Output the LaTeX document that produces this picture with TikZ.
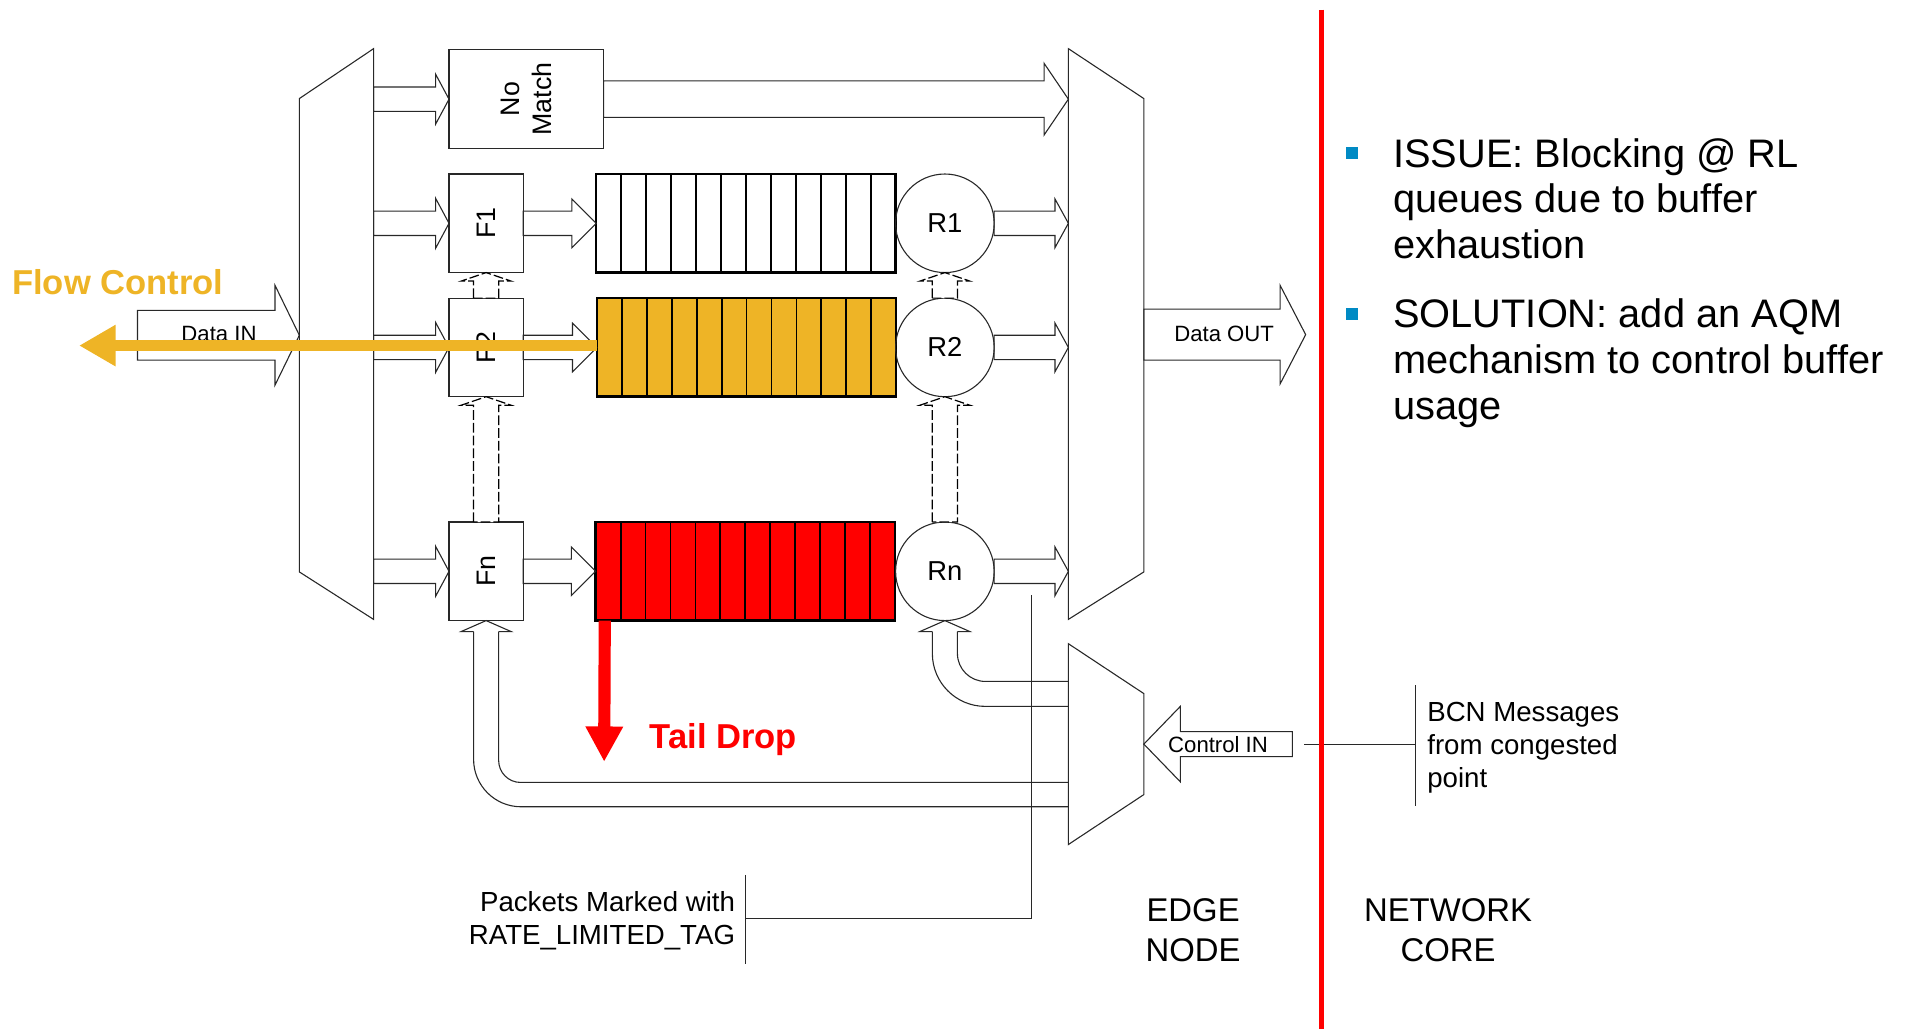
\documentclass[tikz,border=0pt]{standalone}
\usepackage{fontspec}
\setmainfont{Liberation Sans}
\usetikzlibrary{arrows.meta,calc}
\definecolor{qorange}{RGB}{238,180,38}
\definecolor{bulblue}{RGB}{0,138,196}
\definecolor{lnc}{RGB}{40,40,40}
\definecolor{tred}{RGB}{255,0,0}

% horizontal block arrow: [opts]{start}{tip}{body half}{head half}{head length (signed)}
\newcommand\harr[6][]{%
 \draw[blk,#1] let \p1=(#2), \p2=(#3) in
 (\x1,{\y1-#4}) -- ({\x2-(#6)},{\y1-#4}) -- ({\x2-(#6)},{\y1-#5}) -- (\x2,\y1)
 -- ({\x2-(#6)},{\y1+#5}) -- ({\x2-(#6)},{\y1+#4}) -- (\x1,{\y1+#4}) -- cycle;}
% upward block arrow: [opts]{start (bottom)}{tip}{body half}{head half}{head length}
\newcommand\varr[6][]{%
 \draw[blk,#1] let \p1=(#2), \p2=(#3) in
 ({\x1-#4},\y1) -- ({\x1-#4},{\y2-#6}) -- ({\x1-#5},{\y2-#6}) -- (\x1,\y2)
 -- ({\x1+#5},{\y2-#6}) -- ({\x1+#4},{\y2-#6}) -- ({\x1+#4},\y1) -- cycle;}
% open head of the feedback arrows
\newcommand\uhead[1]{%
 \draw[blk] let \p1=(#1) in ({\x1-10.3pt},{\y1-9pt}) -- ({\x1-20.5pt},{\y1-9pt}) -- (\x1,\y1)
 -- ({\x1+20.5pt},{\y1-9pt}) -- ({\x1+10.3pt},{\y1-9pt});}

\begin{document}
\begin{tikzpicture}[x=1pt,y=-1pt,
 every node/.style={inner sep=0pt,outer sep=0pt},
 blk/.style={draw=lnc,line width=0.9pt},
 dsh/.style={fill=white,draw=black,line width=1pt,dash pattern=on 8pt off 2.5pt},
 mux/.style={draw=lnc,line width=0.9pt},
 fbox/.style={draw=lnc,line width=0.9pt,minimum width=61pt,minimum height=81pt},
 queue/.style={draw=black,line width=2pt,minimum width=246pt,minimum height=81pt},
 rcirc/.style={circle,draw=lnc,line width=0.9pt,minimum size=81pt,font=\fontsize{22.5}{26}\selectfont},
 lbl/.style={font=\fontsize{22}{25}\selectfont,rotate=90},
 small/.style={font=\fontsize{18.2}{22}\selectfont},
 mid/.style={font=\fontsize{22.7}{27}\selectfont},
 big/.style={font=\fontsize{32.7}{37.5}\selectfont},
 zone/.style={font=\fontsize{27}{33}\selectfont},
 callout/.style={font=\bfseries\fontsize{28.4}{34}\selectfont},
 link/.style={draw=lnc,line width=0.9pt}
]
\useasboundingbox (0,0) rectangle (1568,846);

% ---------- multiplexers ----------
\draw[mux] (246,81) -- (307,40) -- (307,509) -- (246,470) -- cycle;
\draw[mux] (878,40) -- (940,81) -- (940,470) -- (878,509) -- cycle;
\draw[mux] (878,529) -- (940,570) -- (940,653) -- (878,694) -- cycle;
\coordinate (lmin) at (246,0);
\coordinate (lmout) at (307,0);
\coordinate (rmin) at (878,0);
\coordinate (rmout) at (940,0);
\coordinate (cmout) at (940,0);

% ---------- classifier boxes ----------
\node[fbox,minimum width=127pt] (nomatch) at (432.5,81.5) {};
\node[font=\fontsize{22}{26}\selectfont,rotate=90,align=center] (nomatcht) at (nomatch) {No\\Match};
\node[fbox] (f1) at (399.5,183.5) {};
\node[fbox] (f2) at (399.5,285.5) {};
\node[fbox] (fn) at (399.5,469.5) {};
\node[lbl] (f1t) at (f1) {F1};
\node[lbl] (f2t) at (f2) {F2};
\node[lbl] (fnt) at (fn) {Fn};

% ---------- queues ----------
\node[queue,fill=white] (q1) at (613,183.5) {};
\node[queue,fill=qorange] (q2) at (613.5,285.5) {};
\node[queue,fill=tred] (qn) at (612.5,469.5) {};
\foreach \q in {q1,q2,qn}{
  \foreach \i in {1,...,11}{
    \draw[line width=1.5pt] ($(\q.north west)!\i/12!(\q.north east)$) -- ($(\q.south west)!\i/12!(\q.south east)$);
  }
}

% ---------- rate limiters ----------
\node[rcirc] (r1) at (776.5,183.5) {R1};
\node[rcirc] (r2) at (776.5,285.5) {R2};
\node[rcirc] (rn) at (776.5,469.5) {Rn};

% ---------- data arrows ----------
\coordinate (din) at (113,275.5);
\harr{din}{din -| lmin}{20.5pt}{41pt}{20pt}
\node[small] (dint) at (180,274.5) {Data IN};
\coordinate (dout) at (1073,275);
\harr{dout -| rmout}{dout}{21pt}{40.5pt}{21pt}
\node[small] (doutt) at (1006,274.5) {Data OUT};

\harr{nomatch.west -| lmout}{nomatch.west}{10pt}{20.5pt}{11pt}
\harr{f1.west -| lmout}{f1.west}{10pt}{20.5pt}{11pt}
\harr{f2.west -| lmout}{f2.west}{10pt}{20.5pt}{11pt}
\harr{fn.west -| lmout}{fn.west}{10pt}{20.5pt}{11pt}

\harr{nomatch.east}{nomatch.east -| rmin}{15pt}{29.5pt}{20pt}
\harr{f1.east}{q1.west}{10pt}{20pt}{20pt}
\harr{f2.east}{q2.west}{10pt}{20pt}{20pt}
\harr{fn.east}{qn.west}{10pt}{20pt}{20pt}
\harr{r1.east}{r1.east -| rmin}{10pt}{20pt}{11pt}
\harr{r2.east}{r2.east -| rmin}{10pt}{20pt}{11pt}
\harr{rn.east}{rn.east -| rmin}{10pt}{20pt}{11pt}

% ---------- dashed pass-through arrows ----------
\varr[dsh]{f2.north}{f1.south}{10.3pt}{20.5pt}{7pt}
\varr[dsh]{fn.north}{f2.south}{10.3pt}{20.5pt}{7pt}
\varr[dsh]{r2.north}{r1.south}{10.3pt}{20.5pt}{7pt}
\varr[dsh]{rn.north}{r2.south}{10.3pt}{20.5pt}{7pt}

% ---------- feedback arrows from control mux ----------
\coordinate (cmA) at (878,663);
\coordinate (cmB) at (878,643);
\coordinate (cmC) at (878,580.5);
\coordinate (cmD) at (878,560);
\uhead{fn.south}
\draw[blk,rounded corners=39pt] ($(fn.south)+(-10.3,9)$) |- (cmA);
\draw[blk,rounded corners=18pt] ($(fn.south)+(10.3,9)$) |- (cmB);
\uhead{rn.south}
\draw[blk,rounded corners=43.5pt] ($(rn.south)+(-10.3,9)$) |- (cmC);
\draw[blk,rounded corners=23pt] ($(rn.south)+(10.3,9)$) |- (cmD);

% ---------- control in ----------
\coordinate (cin) at (1062,611.5);
\harr{cin}{cin -| cmout}{10.3pt}{31pt}{-30pt}
\node[small] (cint) at (1001,611.5) {Control IN};

% ---------- annotations ----------
\coordinate (rmk) at (848,489);
\coordinate (pkc) at (613,755);
\coordinate (pkt) at (613,719);
\coordinate (pkb) at (613,792);
\draw[link] (rmk) |- (pkc);
\draw[link] (pkt) -- (pkb);
\node[mid,anchor=base east] (pk1) at (604,749) {Packets Marked with};
\node[mid,anchor=base east] (pk2) at (604,776) {RATE\_LIMITED\_TAG};

\coordinate (cinl) at (1072,611.5);
\coordinate (bcnc) at (1163,611.5);
\coordinate (bcnt) at (1163,563);
\coordinate (bcnb) at (1163,662);
\draw[link] (cinl) -- (bcnc);
\draw[link] (bcnt) -- (bcnb);
\node[mid,anchor=base west] (bcn1) at (1173,593) {BCN Messages};
\node[mid,anchor=base west] (bcn2) at (1173,620) {from congested};
\node[mid,anchor=base west] (bcn3) at (1173,647) {point};

\node[zone,anchor=base] (edge1) at (980.5,757.5) {EDGE};
\node[zone,anchor=base] (edge2) at (980.5,790.5) {NODE};
\node[zone,anchor=base] (core1) at (1190,757.5) {NETWORK};
\node[zone,anchor=base] (core2) at (1190,790.5) {CORE};

% ---------- boundary ----------
\coordinate (rlt) at (1086,8);
\coordinate (rlb) at (1086,846);
\draw[tred,line width=4.5pt] (rlt) -- (rlb);

% ---------- bullets ----------
\node[fill=bulblue,minimum size=10pt] (b1) at (1111,126) {};
\node[fill=bulblue,minimum size=10pt] (b2) at (1111,258) {};
\node[big,anchor=base west] (t11) at (1145,137.5) {ISSUE: Blocking @ RL};
\node[big,anchor=base west] (t12) at (1145,175) {queues due to buffer};
\node[big,anchor=base west] (t13) at (1145,212.5) {exhaustion};
\node[big,anchor=base west] (t21) at (1145,269.5) {SOLUTION: add an AQM};
\node[big,anchor=base west] (t22) at (1145,307) {mechanism to control buffer};
\node[big,anchor=base west] (t23) at (1145,344.5) {usage};

% ---------- flow control / tail drop ----------
\coordinate (fctip) at (65,284);
\draw[qorange,line width=9pt,-{Triangle[width=32pt,length=30pt]}] ($(q2.west)+(0,-1.5)$) -- (fctip);
\node[callout,text=qorange,anchor=base west] (fc) at (10,242) {Flow Control};
\coordinate (tdtip) at (496.5,626);
\draw[tred,line width=10pt,-{Triangle[width=29pt,length=29pt]}] ($(qn.south west)+(7.5,0)$) -- (tdtip);
\node[callout,text=tred,anchor=base west] (td) at (534,615) {Tail Drop};

\end{tikzpicture}
\end{document}
